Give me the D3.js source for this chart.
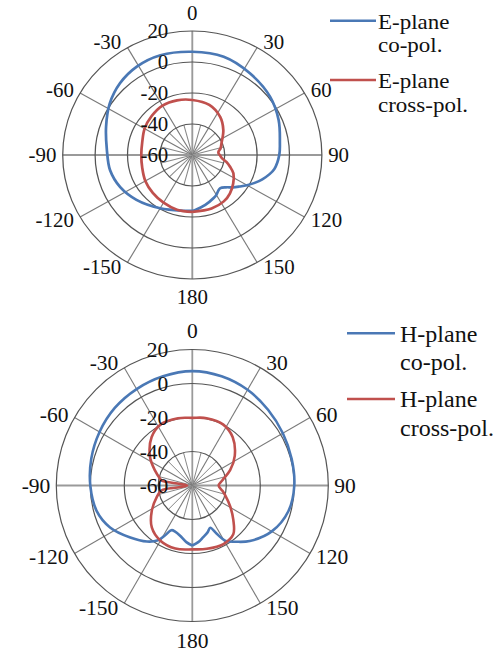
<!DOCTYPE html>
<html>
<head>
<meta charset="utf-8">
<script src="https://cdn.jsdelivr.net/npm/d3@7"></script>
<style>
body { margin: 0; background: #fff; }
</style>
</head>
<body>
<svg id="chart" width="502" height="653"></svg>
<script>
// grid ticks
var ringTicks = [-40, -20, 0, 20];
var radialLabels = [20, 0, -20, -40, -60];
var angleTicks = [0, 30, 60, 90, 120, 150, 180, -150, -120, -90, -60, -30];
var minorAngles = [15, 45, 75, 105, 135, 165, -165, -135, -105, -75, -45, -15];

// E-plane co-pol (deg, dB)
var eCoAngle = [-180, -171, -150, -130, -115, -101, -86, -71, -57, -44, -31, -17, 0, 17, 34, 52, 67, 82, 90, 100, 105, 110, 115, 120, 125, 130, 135, 141, 145, 150, 155, 166, 177, 180];
var eCoGain = [-24, -23.6, -20.3, -15, -10.9, -8.3, -7.1, -3.7, 0.8, 4.3, 6.5, 7.3, 6.6, 6.3, 3.6, 1, -2.1, -5.4, -6.3, -8.5, -11, -14, -17.5, -21, -24.5, -27.5, -30.5, -32.5, -32, -30.3, -29.2, -26.8, -24.5, -24];

// E-plane cross-pol
var eXAngle = [-180, -165, -150, -135, -120, -105, -90, -75, -60, -45, -30, -15, 0, 18, 35, 50, 67, 76, 82, 86, 90, 96, 102, 108, 115, 126, 137, 147, 161, 180];
var eXGain = [-23.3, -23.5, -24.5, -25.5, -26.5, -28, -28.5, -28, -26, -24.5, -23.2, -23.5, -24.5, -26, -30, -35, -40.4, -42, -43.6, -43.8, -43, -41.7, -38.5, -35.5, -32, -28.8, -26, -24.3, -23.5, -23.3];

// H-plane co-pol
var hCoAngle = [-180, -174, -166, -160, -155, -151, -148, -141, -130, -117, -105, -90, -75, -60, -45, -30, -15, 0, 15, 30, 45, 60, 75, 90, 105, 120, 134, 142, 149, 153, 157, 162, 168, 174, 180];
var hCoGain = [-24.7, -26.5, -29.7, -31, -31, -26, -22, -17.6, -12.4, -5.7, -1.8, 0, 1.5, 3, 4.5, 5.5, 6.5, 7.3, 6.5, 5, 3, 1.5, 0.5, 0, -1.5, -6, -13, -18, -22, -28, -33, -31, -29, -26.5, -24.7];

// H-plane cross-pol
var hXAngle = [-180, -165, -150, -136, -122, -108, -99, -97.5, -90, -82.5, -81, -78, -68, -56, -40, -27, -12, 0, 12, 27, 40, 55, 68, 80, 90, 100, 106, 119, 130, 140, 152, 167, 180];
var hXGain = [-22.5, -21.6, -22.5, -25.7, -31.9, -38, -41.8, -50, -57, -50, -41.8, -40.6, -36.3, -30, -22.8, -19.5, -19.5, -20.2, -19.5, -19.8, -23, -29.5, -36, -42, -44.5, -42, -40, -34.5, -28.5, -22.5, -21, -21.8, -22.5];

var blue = '#4a78b5';
var red = '#c0504d';
var serif = '"Liberation Serif", "Times New Roman", serif';
var svg = d3.select('#chart');

function pairs(a, b) {
  return a.map(function (d, i) { return [d, b[i]]; });
}

function drawPanel(p) {
  var g = svg.append('g')
    .attr('transform', 'translate(' + p.cx + ',' + p.cy + ') scale(' + p.sx + ',1)');
  var r = d3.scaleLinear().domain([-60, 20]).range([0, p.R]);
  var rad = function (a) { return a * Math.PI / 180; };

  // short spokes inside the first ring
  g.selectAll('line.minor').data(minorAngles).enter().append('line')
    .attr('x1', 0).attr('y1', 0)
    .attr('x2', function (d) { return Math.sin(rad(d)) * r(-40); })
    .attr('y2', function (d) { return -Math.cos(rad(d)) * r(-40); })
    .attr('stroke', '#888').attr('stroke-width', 1);

  // main spokes
  g.selectAll('line.spoke').data(angleTicks).enter().append('line')
    .attr('x1', 0).attr('y1', 0)
    .attr('x2', function (d) { return Math.sin(rad(d)) * r(20); })
    .attr('y2', function (d) { return -Math.cos(rad(d)) * r(20); })
    .attr('stroke', function (d) { return d % 90 === 0 ? '#9a9a9a' : '#7a7a7a'; })
    .attr('stroke-width', function (d) { return d % 90 === 0 ? 1.8 : 1.1; });

  // rings
  g.selectAll('circle.ring').data(ringTicks).enter().append('circle')
    .attr('r', function (d) { return r(d); })
    .attr('fill', 'none').attr('stroke', '#555').attr('stroke-width', 1.2);

  // pattern curves
  var line = d3.lineRadial()
    .angle(function (d) { return rad(d[0]); })
    .radius(function (d) { return r(d[1]); })
    .curve(d3.curveCatmullRom);

  g.append('path').datum(p.co).attr('d', line)
    .attr('fill', 'none').attr('stroke', blue).attr('stroke-width', 2.6);
  g.append('path').datum(p.cross).attr('d', line)
    .attr('fill', 'none').attr('stroke', red).attr('stroke-width', 2.6);

  // radial tick labels
  g.selectAll('text.rlab').data(radialLabels).enter().append('text')
    .attr('x', -24 / p.sx)
    .attr('y', function (d) { return -r(d); })
    .attr('text-anchor', 'end')
    .attr('dominant-baseline', 'central')
    .attr('font-size', p.fs)
    .attr('fill', '#111')
    .style('font-family', serif)
    .text(function (d) { return d; });

  // angle labels
  g.selectAll('text.alab').data(angleTicks).enter().append('text')
    .attr('x', function (d) {
      var s = Math.sin(rad(d));
      return Math.abs(s) < 0.01 ? 0 : s * p.R + (s > 0 ? 6 : -6);
    })
    .attr('y', function (d) {
      var s = Math.sin(rad(d)), c = Math.cos(rad(d));
      return Math.abs(s) < 0.01 ? -c * (p.R + p.off) : -c * (p.R + 6);
    })
    .attr('text-anchor', function (d) {
      var s = Math.sin(rad(d));
      return Math.abs(s) < 0.01 ? 'middle' : (s > 0 ? 'start' : 'end');
    })
    .attr('dominant-baseline', 'central')
    .attr('font-size', p.fs)
    .attr('fill', '#111')
    .style('font-family', serif)
    .text(function (d) { return d; });

  // legend
  var lg = p.legend;
  var lx = function (x) { return (x - p.cx) / p.sx; };
  var items = [
    { color: blue, y: lg.y1, lines: [p.plane, 'co-pol.'] },
    { color: red, y: lg.y2, lines: [p.plane, 'cross-pol.'] }
  ];
  items.forEach(function (it) {
    g.append('line')
      .attr('x1', lx(lg.x0)).attr('x2', lx(lg.x1))
      .attr('y1', it.y - p.cy).attr('y2', it.y - p.cy)
      .attr('stroke', it.color).attr('stroke-width', 2.6);
    it.lines.forEach(function (t, i) {
      g.append('text')
        .attr('x', lx(lg.tx))
        .attr('y', it.y - p.cy + lg.dy + i * lg.lh)
        .attr('font-size', lg.fs)
        .attr('fill', '#111')
        .style('font-family', serif)
        .text(t);
    });
  });
}

drawPanel({
  cx: 192.3, cy: 155, R: 124, sx: 1.045, fs: 20, off: 18,
  plane: 'E-plane',
  co: pairs(eCoAngle, eCoGain), cross: pairs(eXAngle, eXGain),
  legend: { x0: 330, x1: 376, tx: 378, y1: 20.7, y2: 80, dy: 8.2, lh: 23.4, fs: 22 }
});

drawPanel({
  cx: 192.3, cy: 485.5, R: 136, sx: 1.0, fs: 21.5, off: 19,
  plane: 'H-plane',
  co: pairs(hCoAngle, hCoGain), cross: pairs(hXAngle, hXGain),
  legend: { x0: 347, x1: 395, tx: 400, y1: 333.3, y2: 399, dy: 8.4, lh: 28.3, fs: 24 }
});
</script>
</body>
</html>
